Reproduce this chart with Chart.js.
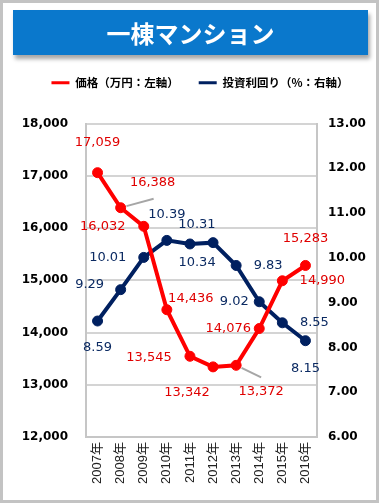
<!DOCTYPE html>
<html>
<head>
<meta charset="utf-8">
<script src="https://cdn.jsdelivr.net/npm/chart.js@4.4.1/dist/chart.umd.min.js"></script>
<style>
html,body{margin:0;padding:0;background:#fff;}
#wrap{position:relative;width:379px;height:503px;overflow:hidden;background:#fff;}
#frame{position:absolute;left:0;top:0;width:379px;height:503px;box-sizing:border-box;border:3px solid #c3c3c3;pointer-events:none;}
#banner{position:absolute;left:13px;top:10px;width:355px;height:45px;background:#0a78cc;box-shadow:2px 4px 4px rgba(0,0,0,0.35);color:#fff;font-family:"Noto Sans CJK JP","Noto Sans",sans-serif;font-weight:bold;font-size:24px;line-height:45px;text-align:center;}
canvas{position:absolute;left:0;top:0;}
</style>
</head>
<body>
<div id="wrap">
  <canvas id="c" width="379" height="503"></canvas>
  <div id="banner">一棟マンション</div>
  <div id="frame"></div>
</div>
<script>
// ---- data ----
const categories = ['2007年','2008年','2009年','2010年','2011年','2012年','2013年','2014年','2015年','2016年'];
const priceValues = [17059, 16388, 16032, 14436, 13545, 13342, 13372, 14076, 14990, 15283];
const yieldValues = [8.59, 9.29, 10.01, 10.39, 10.31, 10.34, 9.83, 9.02, 8.55, 8.15];
const priceTicks = [12000, 13000, 14000, 15000, 16000, 17000, 18000];
const yieldTicks = [6, 7, 8, 9, 10, 11, 12, 13];
const seriesNames = ['価格（万円：左軸）', '投資利回り（%：右軸）'];

// ---- label placement (style only) ----
const priceLabelOffsets = [[0,-30],[32,-25],[-41,0],[24,-11],[-41,1],[-26,26],[25,26],[-31,0],[40,0],[0,-27]];
const yieldLabelOffsets = [[0,27],[-31,-5],[-36,0],[0,-26],[7,-19],[-16,20],[32,0],[-25,0],[32,0],[0,28]];
const priceLeaders = [[1,33,-9],[6,25,12]];

const RED = '#ff0000';
const NAVY = '#002060';

const valueLabels = {
  id: 'valueLabels',
  afterDatasetsDraw(chart) {
    const ctx = chart.ctx;
    ctx.save();
    const m0 = chart.getDatasetMeta(0);
    const m1 = chart.getDatasetMeta(1);
    // leader lines
    ctx.strokeStyle = '#a6a6a6';
    ctx.lineWidth = 2;
    priceLeaders.forEach(([i, dx, dy]) => {
      const p = m0.data[i];
      const len = Math.hypot(dx, dy);
      ctx.beginPath();
      ctx.moveTo(p.x + dx / len * 6, p.y + dy / len * 6);
      ctx.lineTo(p.x + dx, p.y + dy);
      ctx.stroke();
    });
    ctx.font = '13px "DejaVu Sans"';
    ctx.textAlign = 'center';
    ctx.textBaseline = 'middle';
    ctx.fillStyle = '#e00000';
    m0.data.forEach((p, i) => {
      const [dx, dy] = priceLabelOffsets[i];
      ctx.fillText(priceValues[i].toLocaleString('en-US'), p.x + dx, p.y + dy);
    });
    ctx.fillStyle = '#0b2a62';
    m1.data.forEach((p, i) => {
      const [dx, dy] = yieldLabelOffsets[i];
      ctx.fillText(yieldValues[i].toFixed(2), p.x + dx, p.y + dy);
    });
    ctx.restore();
  }
};

const tickFont = {family: '"DejaVu Sans"', size: 12, weight: 'bold'};

new Chart(document.getElementById('c'), {
  type: 'line',
  data: {
    labels: categories,
    datasets: [
      {
        label: seriesNames[0], data: priceValues, xAxisID: 'x', yAxisID: 'y',
        borderColor: RED, backgroundColor: RED, borderWidth: 4,
        pointRadius: 5, pointBorderWidth: 1, pointBackgroundColor: RED, pointBorderColor: RED,
        tension: 0, fill: false
      },
      {
        label: seriesNames[1], data: yieldValues, xAxisID: 'x', yAxisID: 'y1',
        borderColor: NAVY, backgroundColor: NAVY, borderWidth: 4,
        pointRadius: 5, pointBorderWidth: 1, pointBackgroundColor: NAVY, pointBorderColor: NAVY,
        tension: 0, fill: false
      }
    ]
  },
  options: {
    responsive: false,
    animation: false,
    devicePixelRatio: 1,
    layout: {padding: {left: 21, right: 0, top: 57, bottom: 0}},
    plugins: {
      tooltip: {enabled: false},
      legend: {
        display: true,
        position: 'top',
        labels: {
          boxWidth: 18,
          boxHeight: 3,
          padding: 20,
          color: '#000',
          font: {family: '"Noto Sans CJK JP"', size: 11.5, weight: 'bold'},
          generateLabels(chart) {
            const items = Chart.defaults.plugins.legend.labels.generateLabels(chart);
            items.forEach(it => { it.lineWidth = 0; it.strokeStyle = 'rgba(0,0,0,0)'; });
            return items;
          }
        }
      }
    },
    scales: {
      x: {
        type: 'category',
        position: 'bottom',
        offset: true,
        grid: {display: false, drawTicks: false},
        border: {display: true, color: '#c6c6c6', width: 2},
        ticks: {
          autoSkip: false, maxRotation: 90, minRotation: 90, padding: 5,
          color: '#222',
          font: {family: '"Liberation Sans", "Noto Sans CJK JP"', size: 13}
        },
        afterFit(s) { s.height = 66; }
      },
      spacer: {
        type: 'linear',
        position: 'top',
        display: true,
        grid: {display: false, drawTicks: false},
        border: {display: false},
        ticks: {display: false},
        afterFit(s) { s.height = 25; }
      },
      y: {
        type: 'linear',
        position: 'left',
        min: priceTicks[0],
        max: priceTicks[priceTicks.length - 1],
        afterBuildTicks(s) { s.ticks = priceTicks.map(v => ({value: v})); },
        ticks: {
          padding: 18, color: '#000', font: tickFont,
          callback: v => v.toLocaleString('en-US')
        },
        grid: {color: '#d4d4d4', lineWidth: 2, drawTicks: false},
        border: {display: true, color: '#c6c6c6', width: 2},
        afterFit(s) { s.width = 65; }
      },
      y1: {
        type: 'linear',
        position: 'right',
        min: yieldTicks[0],
        max: yieldTicks[yieldTicks.length - 1],
        afterBuildTicks(s) { s.ticks = yieldTicks.map(v => ({value: v})); },
        ticks: {
          padding: 11, color: '#000', font: tickFont,
          callback: v => Number(v).toFixed(2)
        },
        grid: {display: false, drawTicks: false},
        border: {display: true, color: '#c6c6c6', width: 2},
        afterFit(s) { s.width = 62; }
      }
    }
  },
  plugins: [valueLabels]
});
</script>
</body>
</html>
